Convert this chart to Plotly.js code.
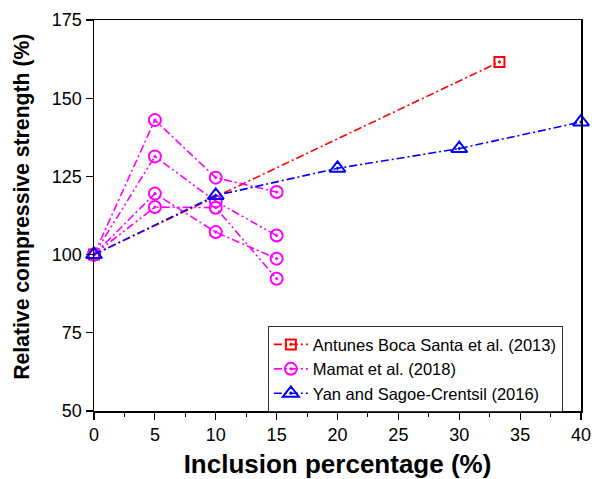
<!DOCTYPE html>
<html>
<head>
<meta charset="utf-8">
<script src="https://cdn.plot.ly/plotly-3.0.1.min.js"></script>
<style>html,body{margin:0;padding:0;background:#fff;}#chart{width:592px;height:479px;}</style>
</head>
<body>
<div id="chart"></div>
<script>
// Data
const antunesX = [0, 33.3];
const antunesY = [100, 161.6];

const mamatX = [0, 5, 10, 15];
const mamatY1 = [100, 143.0, 124.6, 120.0];
const mamatY2 = [100, 131.4, 117.0, 106.1];
const mamatY3 = [100, 119.5, 107.2, 98.7];
const mamatY4 = [100, 115.2, 115.0, 92.3];

const yanX = [0, 10, 20, 30, 40];
const yanY = [100, 118.9, 127.6, 133.9, 142.4];

const xTickStep = 5;
const yTickStep = 25;

const xTitle = 'Inclusion percentage (%)';
const yTitle = 'Relative compressive strength (%)';

const FONT = 'Liberation Sans, Arial, sans-serif';
const mag = '#ff00ff';
const DASH = '8px,3px,2px,3px';
const DASH2 = '8px,3px,2px,3px,2px,3px';

function mamatTrace(y, show, dash) {
  return {
    x: mamatX, y: y, type: 'scatter', mode: 'lines+markers', cliponaxis: false,
    name: 'Mamat et al. (2018)', legendgroup: 'mamat', showlegend: show,
    line: {color: mag, width: 1.6, dash: dash},
    marker: {symbol: 'circle-open-dot', size: 12, color: mag, line: {color: mag, width: 2}}
  };
}

const traces = [
  {
    x: antunesX, y: antunesY, type: 'scatter', mode: 'lines+markers', cliponaxis: false,
    name: 'Antunes Boca Santa et al. (2013)',
    line: {color: '#ff0000', width: 1.6, dash: DASH},
    marker: {symbol: 'square-open-dot', size: 10, color: '#ff0000', line: {color: '#ff0000', width: 2}}
  },
  mamatTrace(mamatY1, true, DASH),
  mamatTrace(mamatY2, false, DASH2),
  mamatTrace(mamatY3, false, DASH),
  mamatTrace(mamatY4, false, DASH2),
  {
    x: yanX, y: yanY, type: 'scatter', mode: 'lines+markers', cliponaxis: false,
    name: 'Yan and Sagoe-Crentsil (2016)',
    line: {color: '#0000ff', width: 1.6, dash: DASH},
    marker: {symbol: 'triangle-up-open-dot', size: 14, color: '#0000ff', line: {color: '#0000ff', width: 2}}
  }
];

const layout = {
  width: 592, height: 479,
  margin: {l: 94, r: 11, t: 20, b: 68},
  paper_bgcolor: '#fff', plot_bgcolor: '#fff',
  font: {family: FONT, color: '#000'},
  showlegend: true,
  legend: {
    x: 0.357, y: 0.217, xanchor: 'left', yanchor: 'top',
    bgcolor: '#fff', bordercolor: '#333', borderwidth: 1,
    font: {family: FONT, size: 16.5, color: '#000'},
    tracegroupgap: 0, itemwidth: 34
  },
  xaxis: {
    range: [0, 40], tickmode: 'linear', tick0: 0, dtick: xTickStep,
    showgrid: false, zeroline: false,
    showline: true, linecolor: '#000', linewidth: 1.5, mirror: true,
    ticks: 'outside', ticklen: 7, tickwidth: 1.2, tickcolor: '#000',
    minor: {dtick: xTickStep / 2, ticks: 'outside', ticklen: 4, tickwidth: 1, tickcolor: '#000', showgrid: false},
    tickfont: {family: FONT, size: 18, color: '#000'},
    title: {text: '<b>' + xTitle + '</b>', font: {family: FONT, size: 26, color: '#000'}, standoff: 13}
  },
  yaxis: {
    range: [50, 175], tickmode: 'linear', tick0: 50, dtick: yTickStep,
    showgrid: false, zeroline: false,
    showline: true, linecolor: '#000', linewidth: 1.5, mirror: true,
    ticks: 'outside', ticklen: 7, tickwidth: 1.2, tickcolor: '#000',
    tickfont: {family: FONT, size: 18, color: '#000'},
    title: {text: ''}
  },
  annotations: [{
    text: '<b>' + yTitle + '</b>', textangle: -90,
    xref: 'paper', yref: 'paper', x: -0.148, y: 0.522,
    xanchor: 'center', yanchor: 'middle', showarrow: false,
    font: {family: FONT, size: 21.2, color: '#000'}
  }]
};

Plotly.newPlot('chart', traces, layout, {displayModeBar: false, staticPlot: true});
</script>
</body>
</html>
